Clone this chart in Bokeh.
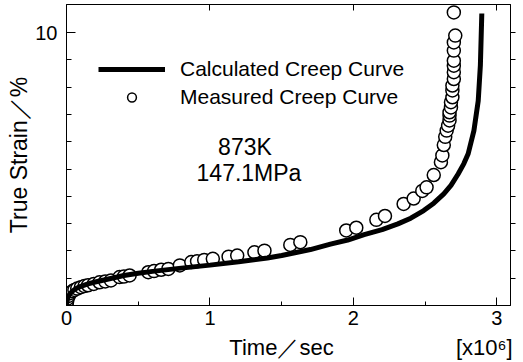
from bokeh.plotting import figure
from bokeh.models import FixedTicker, LinearAxis, Legend, LegendItem, Label
from bokeh.embed import file_html
from bokeh.resources import INLINE

# Calculated creep curve (time in 1e6 s, true strain in %)
calc_time = [0, 0.005, 0.01, 0.02, 0.04, 0.07, 0.1, 0.15, 0.2, 0.3, 0.4, 0.5, 0.6,
             0.8, 1.0, 1.2, 1.4, 1.5, 1.7, 1.84, 1.96, 2.075, 2.2, 2.31, 2.4, 2.49,
             2.56, 2.63, 2.68, 2.73, 2.77, 2.80, 2.84, 2.87, 2.885, 2.895]
calc_strain = [0, 0.2, 0.3, 0.4, 0.52, 0.63, 0.7, 0.79, 0.86, 0.98, 1.1, 1.18, 1.25,
               1.37, 1.48, 1.6, 1.74, 1.83, 2.05, 2.25, 2.4, 2.6, 2.78, 2.99, 3.2, 3.48,
               3.75, 4.09, 4.4, 4.82, 5.2, 5.56, 6.41, 7.5, 8.8, 10.7]

# Measured creep curve
meas_time = [0, 0.003, 0.008, 0.015, 0.025, 0.04, 0.055, 0.075, 0.1, 0.125, 0.15,
             0.19, 0.23, 0.27, 0.31, 0.37, 0.40, 0.44, 0.57, 0.61, 0.66, 0.71, 0.79,
             0.87, 0.91, 0.96, 1.02, 1.13, 1.19, 1.31, 1.38, 1.56, 1.63, 1.95, 2.02,
             2.16, 2.22, 2.35, 2.42, 2.48, 2.51, 2.56, 2.61, 2.62, 2.63, 2.64, 2.65,
             2.66, 2.67, 2.67, 2.67, 2.68, 2.68, 2.69, 2.69, 2.69, 2.70, 2.70, 2.70,
             2.70, 2.70, 2.70, 2.71, 2.70]
meas_strain = [0, 0.12, 0.25, 0.35, 0.45, 0.52, 0.57, 0.62, 0.67, 0.71, 0.74,
               0.79, 0.85, 0.88, 0.92, 1.04, 1.06, 1.10, 1.22, 1.26, 1.31, 1.34, 1.47,
               1.59, 1.62, 1.67, 1.71, 1.79, 1.83, 1.95, 2.01, 2.22, 2.32, 2.75, 2.85,
               3.14, 3.28, 3.72, 3.92, 4.20, 4.33, 4.78, 5.25, 5.50, 5.88, 6.18, 6.41,
               6.59, 6.78, 6.96, 7.08, 7.26, 7.45, 7.63, 7.88, 8.06, 8.30, 8.55, 8.79,
               8.97, 9.34, 9.64, 9.89, 10.74]

x_ticks = [0, 1, 2, 3]
x_minor = [0.5, 1.5, 2.5]
y_ticks = [10]
y_minor = [1, 2, 3, 4, 5, 6, 7, 8, 9]
x_title = "Time／sec"
x_multiplier = "[x10⁶]"
y_title = "True Strain／%"
nan = float("nan")

FONT = "Liberation Sans"
NBSP = "\u00a0"

p = figure(width=523, height=362, x_range=(0, 3.095), y_range=(0, 11.03),
           output_backend="svg", toolbar_location=None,
           min_border_left=66, min_border_right=13, min_border_top=4,
           min_border_bottom=57)
p.grid.visible = False
p.outline_line_color = "black"
p.outline_line_width = 1
p.background_fill_color = "white"
p.border_fill_color = "white"

xa = p.xaxis[0]
xa.ticker = FixedTicker(ticks=x_ticks, minor_ticks=x_minor)
xa.major_tick_in = 8
xa.major_tick_out = 0
xa.minor_tick_in = 4
xa.minor_tick_out = 0
xa.major_label_standoff = 5
xa.major_label_text_font = FONT
xa.major_label_text_font_size = "20px"
xa.major_label_text_color = "black"
# axis title and the x10^6 multiplier share the line under the tick labels
# (centred label, padded so the title sits left of centre and the multiplier
#  ends at the right edge of the frame)
xa.axis_label = NBSP * 27 + x_title + NBSP * 20 + x_multiplier
xa.axis_label_text_font = FONT
xa.axis_label_text_font_size = "22px"
xa.axis_label_text_font_style = "normal"
xa.axis_label_text_color = "black"
xa.axis_label_standoff = 7
xa.axis_line_color = "black"

ya = p.yaxis[0]
ya.ticker = FixedTicker(ticks=y_ticks, minor_ticks=y_minor)
ya.major_tick_in = 9
ya.major_tick_out = 0
ya.minor_tick_in = 5
ya.minor_tick_out = 0
ya.major_label_standoff = 9
ya.major_label_text_font = FONT
ya.major_label_text_font_size = "20px"
ya.major_label_text_color = "black"
ya.axis_label = y_title
ya.axis_label_text_font = FONT
ya.axis_label_text_font_size = "23px"
ya.axis_label_text_font_style = "normal"
ya.axis_label_text_color = "black"
ya.axis_label_standoff = 0

top = LinearAxis(ticker=FixedTicker(ticks=x_ticks[1:], minor_ticks=[]),
                 major_tick_in=6, major_tick_out=0, minor_tick_in=0, minor_tick_out=0,
                 major_label_text_font_size="0px", major_label_standoff=0,
                 major_label_overrides={t: "" for t in x_ticks[1:]},
                 axis_line_color="black")
p.add_layout(top, "above")

right = LinearAxis(ticker=FixedTicker(ticks=y_minor + y_ticks, minor_ticks=[]),
                   major_tick_in=0, major_tick_out=5, minor_tick_in=0, minor_tick_out=0,
                   major_label_text_font_size="0px", major_label_standoff=0,
                   major_label_overrides={t: "" for t in y_minor + y_ticks},
                   axis_line_color="black")
p.add_layout(right, "right")

meas = p.scatter(meas_time, meas_strain, marker="circle", size=13,
                 fill_color="white", line_color="black", line_width=1.5)
calc = p.line(calc_time, calc_strain, line_color="black", line_width=5)
# smaller marker used only for the legend entry (not drawn in the plot)
meas_key = p.scatter([nan], [nan], marker="circle", size=10,
                     fill_color="white", line_color="black", line_width=1.5)

legend = Legend(items=[LegendItem(label="Calculated Creep Curve", renderers=[calc]),
                       LegendItem(label="Measured Creep Curve", renderers=[meas_key])],
                location=(32, 196), orientation="vertical",
                glyph_width=67, glyph_height=22, label_height=22,
                label_standoff=15, spacing=4, padding=0, margin=0,
                label_text_font=FONT, label_text_font_size="21px",
                label_text_color="black", border_line_color=None,
                background_fill_alpha=0)
p.add_layout(legend, "center")

p.add_layout(Label(x=1.244, y=5.79, text="873K", text_align="center",
                   text_baseline="middle", text_font=FONT, text_font_size="23px",
                   text_color="black"))
p.add_layout(Label(x=1.272, y=4.87, text="147.1MPa", text_align="center",
                   text_baseline="middle", text_font=FONT, text_font_size="23px",
                   text_color="black"))

open("out.html", "w").write(file_html(p, INLINE))
